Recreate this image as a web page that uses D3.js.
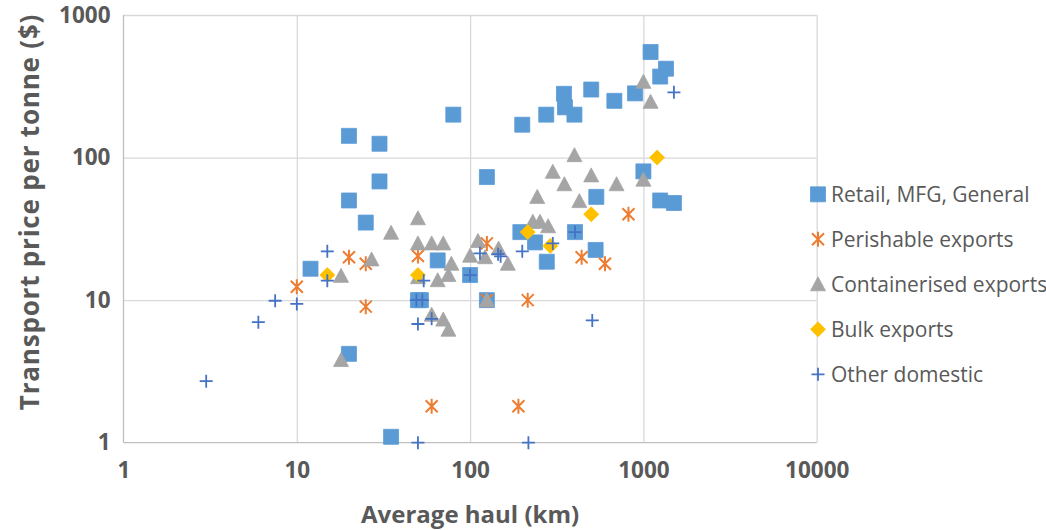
<!DOCTYPE html>
<html>
<head>
<script src="https://d3js.org/d3.v7.min.js"></script>
<style>
  body { margin: 0; background: #fff; }
  text { font-family: "Open Sans", "Noto Sans", sans-serif; fill: #595959; }
</style>
</head>
<body>
<div id="chart"></div>
<script>
// series data: [average haul km, price per tonne $]
var retail = [[12,16.6],[20,142],[20,50],[20,4.2],[25,35],[30,125],[30,68],[35,1.1],[50,10],[52,10],
  [65,19],[80,200],[100,15],[125,73],[125,10],[195,30],[200,170],[237,25.4],[275,200],[277,18.6],
  [348,280],[353,225],[400,200],[403,30],[500,300],[530,22.5],[535,53],[680,250],[895,282],[1000,80],
  [1100,550],[1250,370],[1350,420],[1250,50],[1500,48]];
var perishable = [[10,12.4],[20,20],[25,18],[25,9],[50,20.4],[60,1.8],[125,25],[125,10],[215,10],
  [190,1.8],[440,20],[600,18],[820,40]];
var container = [[18,3.8],[18,14.8],[27,19.3],[35,29.7],[50,37.5],[50,25],[50,14.5],[60,25],[70,25],
  [60,7.9],[70,7.3],[75,6.2],[65,13.8],[75,15],[78,18],[100,20.5],[111,26],[122,20],[125,10],[146,23],
  [165,18],[230,35.5],[253,35.5],[282,33],[244,53],[300,79.5],[350,65],[400,104],[427,49.5],[500,75],
  [700,65],[1000,70],[1000,340],[1100,246]];
var bulk = [[15,15],[50,15],[215,30],[290,24],[500,40],[1200,100]];
var otherDomestic = [[3,2.7],[6,7],[7.5,9.9],[10,9.4],[15,22],[15,13.7],[49,10],[53,10],[50,6.8],
  [54,13.7],[60,7.4],[50,1],[100,15],[114,21.3],[145,21],[150,20.3],[200,22],[300,25],[403,30],
  [507,7.2],[217,1],[1500,287]];

var seriesNames = ["Retail, MFG, General", "Perishable exports", "Containerised exports", "Bulk exports", "Other domestic"];
var xTicks = [1, 10, 100, 1000, 10000];
var yTicks = [1, 10, 100, 1000];

var W = 1046, H = 530;
var pL = 123.5, pR = 816.7, pT = 15, pB = 442.7;

var svg = d3.select("#chart").append("svg").attr("width", W).attr("height", H);

var xs = d3.scaleLog().domain([1, 10000]).range([pL, pR]);
var ys = d3.scaleLog().domain([1, 1000]).range([pB, pT]);

// gridlines
svg.append("g").attr("transform", "translate(0," + pB + ")")
  .call(d3.axisBottom(xs).tickValues(xTicks.slice(1)).tickSize(-(pB - pT)).tickFormat(""))
  .call(g => g.select(".domain").remove())
  .selectAll("line").attr("stroke", "#d9d9d9").attr("stroke-width", 1.3);
svg.append("g").attr("transform", "translate(" + pL + ",0)")
  .call(d3.axisLeft(ys).tickValues(yTicks.slice(1)).tickSize(-(pR - pL)).tickFormat(""))
  .call(g => g.select(".domain").remove())
  .selectAll("line").attr("stroke", "#d9d9d9").attr("stroke-width", 1.3);

// axis lines
svg.append("line").attr("x1", pL).attr("x2", pL).attr("y1", pT).attr("y2", pB)
  .attr("stroke", "#bfbfbf").attr("stroke-width", 1.3);
svg.append("line").attr("x1", pL).attr("x2", pR).attr("y1", pB).attr("y2", pB)
  .attr("stroke", "#bfbfbf").attr("stroke-width", 1.3);

// tick labels
var xAx = svg.append("g").attr("transform", "translate(0," + (pB + 19) + ")")
  .call(d3.axisBottom(xs).tickValues(xTicks).tickSize(0).tickFormat(d3.format("d")));
xAx.select(".domain").remove();
xAx.selectAll("text").attr("font-size", 22.5).attr("font-weight", "bold").attr("fill", "#595959")
  .style("font-family", "'Open Sans', sans-serif").attr("y", 0).attr("dy", "0.71em");

var yAx = svg.append("g").attr("transform", "translate(" + (pL - 13) + ",0)")
  .call(d3.axisLeft(ys).tickValues(yTicks).tickSize(0).tickFormat(d3.format("d")));
yAx.select(".domain").remove();
yAx.selectAll("text").attr("font-size", 22.5).attr("font-weight", "bold").attr("fill", "#595959")
  .style("font-family", "'Open Sans', sans-serif").attr("x", 0);

// axis titles
svg.append("text").attr("x", (pL + pR) / 2).attr("y", 515).attr("dy", "0.35em")
  .attr("text-anchor", "middle").attr("font-size", 24).attr("font-weight", "bold")
  .text("Average haul (km)");
svg.append("text").attr("transform", "translate(30,212) rotate(-90)")
  .attr("dy", "0.35em").attr("text-anchor", "middle").attr("font-size", 26).attr("font-weight", "bold")
  .attr("letter-spacing", 0.8)
  .text("Transport price per tonne ($)");

// marker shapes
var square = "M-7.5,-7.5H7.5V7.5H-7.5Z";
var triangle = "M0,-7.5L7.5,6.5H-7.5Z";
var diamond = "M0,-7.5L7.5,0L0,7.5L-7.5,0Z";
var star = "M-6,-6L6,6M-6,6L6,-6M0,-7.5V7.5";
var plus = "M-6.5,0H6.5M0,-6.5V6.5";

var styles = [
  { data: retail, path: square, fill: "#5b9bd5", stroke: "#5b9bd5", sw: 0.8 },
  { data: perishable, path: star, fill: "none", stroke: "#ed7d31", sw: 2 },
  { data: container, path: triangle, fill: "#a5a5a5", stroke: "#a5a5a5", sw: 0.8 },
  { data: bulk, path: diamond, fill: "#ffc000", stroke: "#ffc000", sw: 0.8 },
  { data: otherDomestic, path: plus, fill: "none", stroke: "#4472c4", sw: 1.8 }
];

styles.forEach(function (s) {
  svg.append("g").selectAll("path")
    .data(s.data)
    .enter()
    .append("path")
    .attr("d", s.path)
    .attr("transform", d => "translate(" + xs(d[0]) + "," + ys(d[1]) + ")")
    .attr("fill", s.fill)
    .attr("stroke", s.stroke)
    .attr("stroke-width", s.sw);
});

// legend
var lx = 818, ly0 = 194.3, lstep = 45;
styles.forEach(function (s, i) {
  var y = ly0 + i * lstep;
  svg.append("path").attr("d", s.path).attr("transform", "translate(" + lx + "," + y + ")")
    .attr("fill", s.fill).attr("stroke", s.stroke).attr("stroke-width", s.sw);
  svg.append("text").attr("x", 831).attr("y", y).attr("dy", "0.35em")
    .attr("font-size", 21).text(seriesNames[i]);
});
</script>
</body>
</html>
